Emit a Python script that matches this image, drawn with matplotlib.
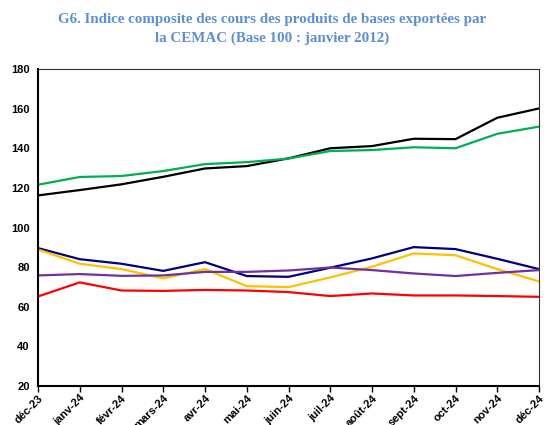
import matplotlib.pyplot as plt

# months (x categories)
mois = ["déc-23", "janv-24", "févr-24", "mars-24", "avr-24", "mai-24", "juin-24",
        "juil-24", "août-24", "sept-24", "oct-24", "nov-24", "déc-24"]

# series
noir = [116.2, 118.9, 121.8, 125.6, 129.8, 131.0, 134.9, 140.0, 141.1, 144.8, 144.6, 155.4, 160.1]
vert = [121.6, 125.5, 126.0, 128.5, 132.0, 133.0, 134.8, 138.6, 139.1, 140.5, 140.0, 147.3, 150.9]
marine = [89.6, 84.0, 81.7, 78.1, 82.5, 75.5, 75.1, 79.7, 84.4, 90.1, 89.1, 84.2, 79.0]
jaune = [88.9, 81.7, 79.0, 74.3, 79.0, 70.4, 69.9, 74.8, 80.2, 86.9, 86.0, 79.0, 72.8]
violet = [75.8, 76.5, 75.6, 75.8, 77.6, 77.6, 78.3, 79.8, 78.5, 76.8, 75.5, 77.1, 78.5]
rouge = [65.2, 72.3, 68.2, 68.0, 68.5, 68.2, 67.4, 65.4, 66.7, 65.7, 65.7, 65.4, 65.0]

fig = plt.figure(figsize=(5.44, 4.25), dpi=100)
ax = fig.add_axes([0.0699, 0.0918, 0.9209, 0.7458])

x = range(len(mois))
lw = 1.6
ax.plot(x, noir, color="black", lw=lw)
ax.plot(x, vert, color="#00B050", lw=lw)
ax.plot(x, marine, color="#000080", lw=lw)
ax.plot(x, jaune, color="#FFC000", lw=lw)
ax.plot(x, violet, color="#7030A0", lw=lw)
ax.plot(x, rouge, color="#FF0000", lw=lw)

ax.set_xlim(0, len(mois) - 1)
ax.set_ylim(20, 180)
ax.set_yticks(range(20, 181, 20))
ax.set_xticks(list(x))
ax.set_xticklabels(mois, rotation=45, ha="right", rotation_mode="anchor",
                   fontsize=8, fontweight="bold", family="Liberation Sans")
for lab in ax.get_yticklabels():
    lab.set_fontsize(8)
    lab.set_fontweight("bold")
    lab.set_family("Liberation Sans")

ax.tick_params(axis="x", direction="out", length=4, width=1, pad=1)
ax.tick_params(axis="y", length=0, pad=6)
for s in ["left", "bottom"]:
    ax.spines[s].set_linewidth(1.5)
for s in ["top", "right"]:
    ax.spines[s].set_linewidth(0.8)
    ax.spines[s].set_color("#333333")

fig.text(0.5, 0.97, "G6. Indice composite des cours des produits de bases exportées par\nla CEMAC (Base 100 : janvier 2012)",
         ha="center", va="top", fontsize=10.8, fontweight="bold",
         family="Liberation Serif", color="#5B8ED6", linespacing=1.55)

fig.savefig("out.png", dpi=100)
